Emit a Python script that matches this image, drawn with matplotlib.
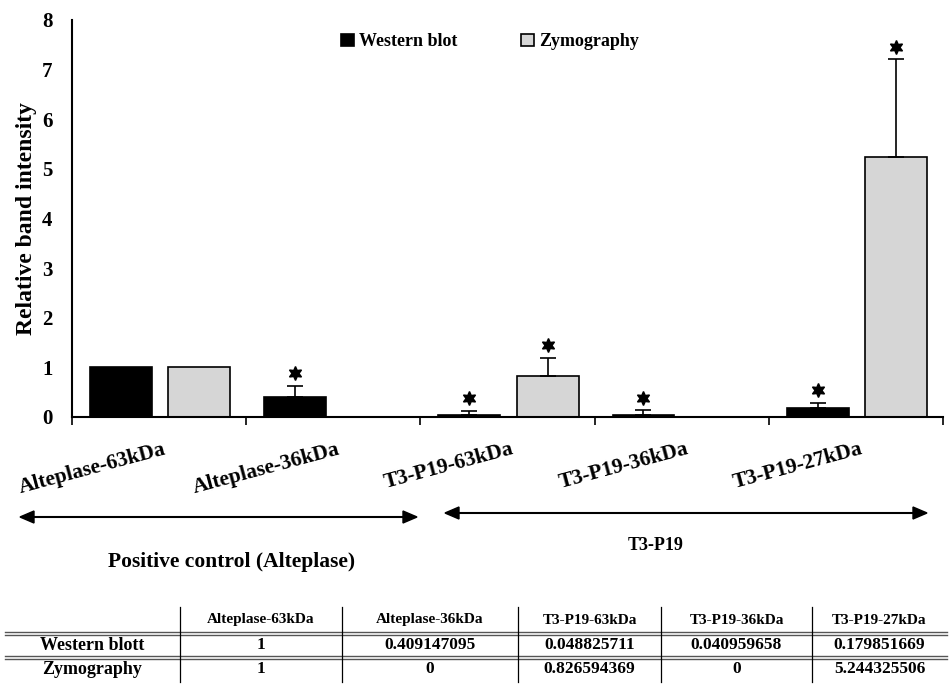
import matplotlib.pyplot as plt
import numpy as np

# data
categories = ["Alteplase-63kDa", "Alteplase-36kDa", "T3-P19-63kDa", "T3-P19-36kDa", "T3-P19-27kDa"]
western = [1, 0.409147095, 0.048825711, 0.040959658, 0.179851669]
zymo = [1, 0, 0.826594369, 0, 5.244325506]
western_err = [0, 0.21, 0.08, 0.09, 0.11]
zymo_err = [0, 0, 0.36, 0, 1.96]
western_star = [False, True, True, True, True]
zymo_star = [False, False, True, False, True]
row_names = ["Western blott", "Zymography"]
groups = ["Positive control (Alteplase)", "T3-P19"]

plt.rcParams['font.family'] = ['Liberation Serif', 'DejaVu Serif']
plt.rcParams['font.weight'] = 'bold'

fig = plt.figure(figsize=(9.5, 6.84), dpi=100)
ax = fig.add_axes([0.0758, 0.3904, 0.917, 0.5804])

x = np.arange(len(categories))
w = 0.355
xw = x + 0.28
xz = x + 0.73
ax.bar(xw, western, w, color='black', edgecolor='black', lw=1.2, label='Western blot', zorder=2)
ax.bar(xz, zymo, w, color='#d6d6d6', edgecolor='black', lw=1.2, label='Zymography', zorder=2)

for xs, vals, errs, stars in [(xw, western, western_err, western_star), (xz, zymo, zymo_err, zymo_star)]:
    for xi, v, e, s in zip(xs, vals, errs, stars):
        if e > 0:
            ax.errorbar(xi, v, yerr=[[0], [e]], fmt='none', ecolor='black', elinewidth=1.2, capsize=6, capthick=1.2, zorder=3)
        if s:
            ax.plot(xi, v + e + 0.26, marker=(6, 1, 0), ms=10, color='black', ls='none', zorder=4)

ax.set_xlim(0, 5)
ax.set_ylim(0, 8)
ax.set_yticks(range(0, 9))
ax.tick_params(axis='y', length=0, labelsize=15, pad=14)
ax.set_xticks(range(0, 6))
ax.set_xticklabels([])
ax.tick_params(axis='x', length=6, width=1.2, direction='out')
for sp in ['top', 'right']:
    ax.spines[sp].set_visible(False)
for sp in ['left', 'bottom']:
    ax.spines[sp].set_linewidth(1.5)
ax.set_ylabel("Relative band intensity", fontsize=17, fontweight='bold')
ax.yaxis.set_label_coords(-0.04, 0.5)

for i, c in enumerate(categories):
    ax.text(i + 0.52, -0.45, c, rotation=15, ha='right', va='top', rotation_mode='anchor',
            fontsize=15.5, fontweight='bold', transform=ax.transData)

leg = ax.legend(loc='center', bbox_to_anchor=(0.48, 0.945), ncol=2, frameon=False,
                fontsize=13, handlelength=0.7, handleheight=0.7, handletextpad=0.3, columnspacing=3.5)

# group arrows
H, W = 684, 950
def fx(px):
    return px / W
def fy(py):
    return 1 - py / H

fig.add_artist(plt.Line2D([fx(22), fx(415)], [fy(517), fy(517)], color='black', lw=1.5))
fig.patches.append(plt.Polygon([[fx(20), fy(517)], [fx(34), fy(511)], [fx(34), fy(523)]], closed=True, color='black', transform=fig.transFigure))
fig.patches.append(plt.Polygon([[fx(417), fy(517)], [fx(403), fy(511)], [fx(403), fy(523)]], closed=True, color='black', transform=fig.transFigure))
fig.add_artist(plt.Line2D([fx(447), fx(925)], [fy(513), fy(513)], color='black', lw=1.5))
fig.patches.append(plt.Polygon([[fx(445), fy(513)], [fx(459), fy(507)], [fx(459), fy(519)]], closed=True, color='black', transform=fig.transFigure))
fig.patches.append(plt.Polygon([[fx(927), fy(513)], [fx(913), fy(507)], [fx(913), fy(519)]], closed=True, color='black', transform=fig.transFigure))
fig.text(fx(232), fy(562), groups[0], ha='center', va='center', fontsize=15.5, fontweight='bold')
fig.text(fx(656), fy(545), groups[1], ha='center', va='center', fontsize=13, fontweight='bold')

# table
col_edges = [5, 180, 342, 518, 661, 812, 947]
row_y = [620, 645, 669]
def fmt(v):
    return str(int(v)) if float(v).is_integer() else f"{v:.9f}"

for j, c in enumerate(categories):
    fig.text(fx((col_edges[j + 1] + col_edges[j + 2]) / 2), fy(row_y[0]), c, ha='center', va='center', fontsize=11, fontweight='bold')
for r, (name, vals) in enumerate(zip(row_names, [western, zymo])):
    fig.text(fx((col_edges[0] + col_edges[1]) / 2), fy(row_y[r + 1]), name, ha='center', va='center', fontsize=13, fontweight='bold')
    for j, v in enumerate(vals):
        fig.text(fx((col_edges[j + 1] + col_edges[j + 2]) / 2), fy(row_y[r + 1]), fmt(v), ha='center', va='center', fontsize=12.5, fontweight='bold')
for ly in [632, 635, 656, 659]:
    fig.add_artist(plt.Line2D([fx(col_edges[0]), fx(col_edges[-1])], [fy(ly), fy(ly)], color='#555555', lw=1.0))
for xe in col_edges[1:-1]:
    fig.add_artist(plt.Line2D([fx(xe), fx(xe)], [fy(607), fy(682)], color='black', lw=0.9))

fig.savefig("out.png", dpi=100)
